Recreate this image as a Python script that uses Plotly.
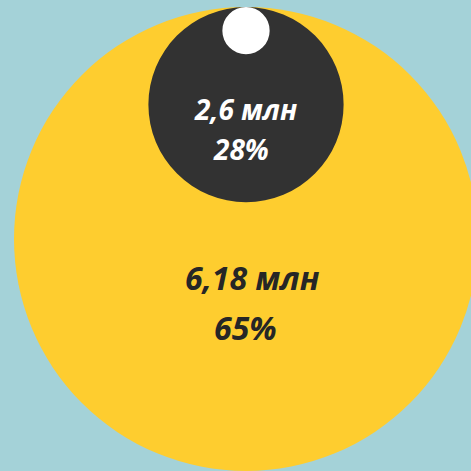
import plotly.graph_objects as go

# Data (million people); circle radius is proportional to value
names = ["Большой", "Средний", "Малый"]
values = [6.18, 2.6, 0.63]
value_labels = ["6,18 млн", "2,6 млн", ""]
pct_labels = ["65%", "28%", ""]
colors = ["#fecd2f", "#323232", "#ffffff"]
text_colors = ["#262626", "#ffffff", "#000000"]

W = H = 471
BG = "#a4d2d8"
# layout constants (pixel geometry)
cx_px, top_px = 246, 7
scale = 232 / values[0]  # px per unit


def ux(px):
    return (px - cx_px) / scale


def uy(py):
    return (top_px - py) / scale


fig = go.Figure()

shapes = []
for v, c in zip(values, colors):
    r = v
    shapes.append(dict(type="circle", xref="x", yref="y",
                       x0=-r, x1=r, y0=-2 * r, y1=0,
                       fillcolor=c, line=dict(width=0), layer="above"))

# text line positions (px): (x1, y1, x2, y2, font size)
text_pos = {0: (252, 277, 245, 327, 32), 1: (245, 109, 241, 149, 28)}
annotations = []
for i, (x1, y1, x2, y2, fs) in text_pos.items():
    for txt, xpx, ypx in ((value_labels[i], x1, y1), (pct_labels[i], x2, y2)):
        annotations.append(dict(
            x=ux(xpx), y=uy(ypx), xref="x", yref="y", text=txt,
            showarrow=False, xanchor="center", yanchor="middle",
            font=dict(family="Open Sans, Noto Sans, sans-serif", size=fs,
                      color=text_colors[i], weight="bold", style="italic")))

# invisible trace so axes exist
fig.add_trace(go.Scatter(x=[0], y=[0], mode="markers",
                         marker=dict(opacity=0), hoverinfo="skip",
                         showlegend=False))

fig.update_layout(
    width=W, height=H,
    margin=dict(l=0, r=0, t=0, b=0),
    paper_bgcolor=BG, plot_bgcolor=BG,
    shapes=shapes, annotations=annotations,
    xaxis=dict(range=[ux(0), ux(W)], visible=False, fixedrange=True),
    yaxis=dict(range=[uy(H), uy(0)], visible=False, fixedrange=True),
    showlegend=False,
)

fig.write_html(
    "out.html",
    config={"displayModeBar": False},
    post_script="document.body.style.margin='0';"
                "document.body.style.overflow='hidden';"
                "document.body.style.background='" + BG + "';",
)
